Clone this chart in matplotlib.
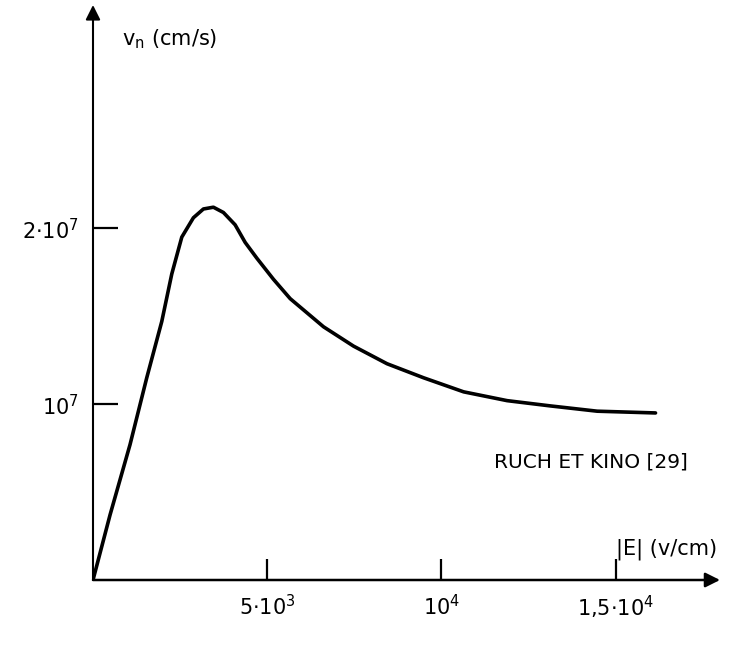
import matplotlib
matplotlib.use("Agg")
import matplotlib.pyplot as plt
import numpy as np

plt.rcParams['font.family'] = ['DejaVu Sans']
plt.rcParams['mathtext.fontset'] = 'dejavusans'

# field |E| (V/cm) and drift velocity v_n (in units of 1e7 cm/s)
field = [0, 489, 1063, 1543, 1974, 2261, 2549, 2882, 3170, 3457, 3744,
         4080, 4368, 4704, 5181, 5661, 6618, 7480, 8440, 9491, 10641,
         11888, 13132, 14474, 16149]
velocity = [0, 0.37, 0.77, 1.15, 1.47, 1.74, 1.95, 2.06, 2.11, 2.12, 2.09,
            2.02, 1.92, 1.83, 1.71, 1.60, 1.44, 1.33, 1.23, 1.15, 1.07,
            1.02, 0.99, 0.96, 0.95]

x_ticks = [5000, 10000, 15000]
x_tick_labels = [r"$5{\cdot}10^{3}$", r"$10^{4}$", r"$1{,}5{\cdot}10^{4}$"]
y_ticks = [1, 2]
y_tick_labels = [r"$10^{7}$", r"$2{\cdot}10^{7}$"]

fig = plt.figure(figsize=(7.56, 6.45), dpi=100)
ax = fig.add_axes([93/756, 65/645, (720-93)/756, (580-5)/645])
ax.set_xlim(0, 18000)
ax.set_ylim(0, 3.27)
for s in ax.spines.values():
    s.set_visible(False)

ax.plot(field, velocity, color='black', lw=2.6, solid_capstyle='round',
        solid_joinstyle='round')

# axes with arrows
ax.annotate('', xy=(18000, 0), xytext=(0, 0), annotation_clip=False,
            arrowprops=dict(arrowstyle='-|>', lw=1.8, color='black',
                            mutation_scale=22, shrinkA=0, shrinkB=0))
ax.annotate('', xy=(0, 3.27), xytext=(0, 0), annotation_clip=False,
            arrowprops=dict(arrowstyle='-|>', lw=1.5, color='black',
                            mutation_scale=22, shrinkA=0, shrinkB=0))

ax.set_xticks(x_ticks)
ax.set_xticklabels(x_tick_labels, fontsize=15)
ax.set_yticks(y_ticks)
ax.set_yticklabels(y_tick_labels, fontsize=15)
ax.tick_params(axis='x', direction='in', length=15, width=1.6, pad=10)
ax.tick_params(axis='y', direction='in', length=18, width=1.6, pad=10)

ax.text(0.047, 0.94, r"v$_\mathregular{n}$ (cm/s)", transform=ax.transAxes,
        fontsize=15, ha='left', va='center')
ax.text(0.995, 0.035, "|E| (v/cm)", transform=ax.transAxes,
        fontsize=15, ha='right', va='bottom')
ax.text(0.64, 0.205, "RUCH ET KINO [29]", transform=ax.transAxes,
        fontsize=14.5, ha='left', va='center')

fig.savefig("out.png", dpi=100)
